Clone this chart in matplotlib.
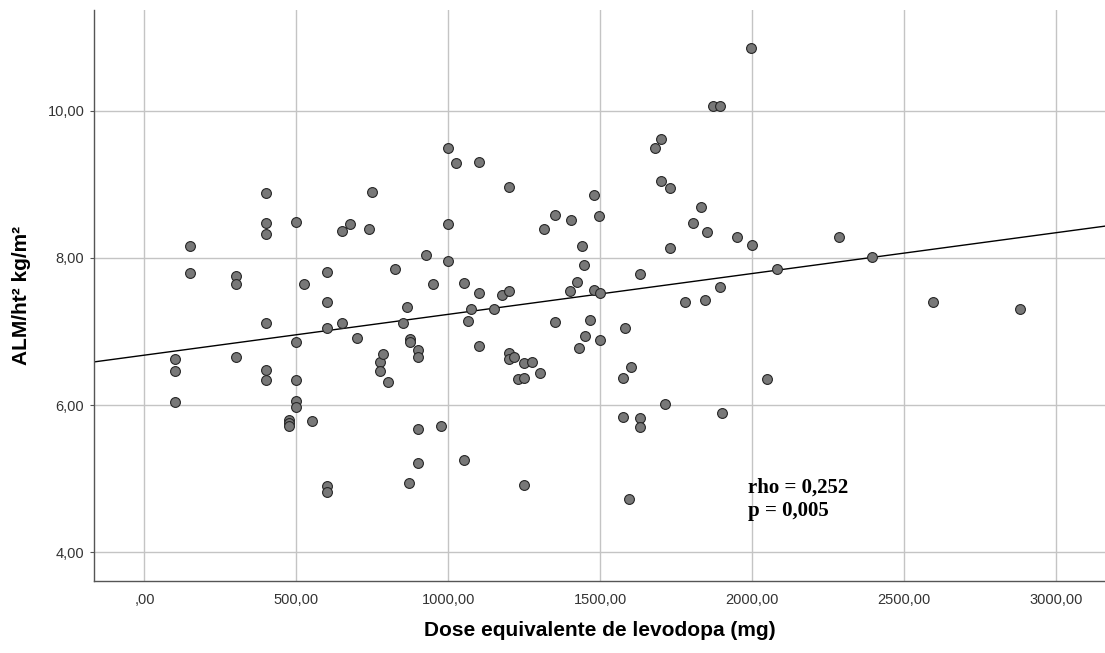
import numpy as np
import matplotlib
matplotlib.use('Agg')
import matplotlib.pyplot as plt

# --- data: levodopa equivalent dose (mg) vs appendicular lean mass index ---
dose_mg = [
    100, 100, 100, 150, 150, 300, 300, 300, 400, 400,
    400, 400, 400, 400, 475, 475, 475, 500, 500, 500,
    500, 500, 525, 550, 600, 600, 600, 600, 600, 650,
    650, 675, 700, 740, 750, 775, 775, 785, 800, 825,
    850, 865, 870, 875, 875, 900, 900, 900, 900, 925,
    950, 975, 1000, 1000, 1000, 1025, 1050, 1050, 1065, 1075,
    1100, 1100, 1100, 1150, 1175, 1200, 1200, 1200, 1200, 1215,
    1230, 1250, 1250, 1250, 1275, 1300, 1315, 1350, 1350, 1400,
    1405, 1425, 1430, 1440, 1445, 1450, 1465, 1480, 1480, 1495,
    1500, 1500, 1575, 1575, 1580, 1595, 1600, 1630, 1630, 1630,
    1680, 1700, 1700, 1712, 1730, 1730, 1780, 1805, 1830, 1845,
    1850, 1870, 1895, 1895, 1900, 1950, 1995, 2000, 2050, 2080,
    2285, 2395, 2595, 2880,
]
alm_ht2 = [
    6.63, 6.46, 6.04, 8.16, 7.80, 7.75, 7.65, 6.66, 8.88, 8.47,
    8.32, 7.11, 6.48, 6.34, 5.80, 5.76, 5.71, 8.49, 6.86, 6.34,
    6.05, 5.97, 7.65, 5.78, 7.81, 7.40, 7.05, 4.90, 4.82, 8.37,
    7.12, 8.46, 6.91, 8.39, 8.89, 6.58, 6.47, 6.70, 6.31, 7.85,
    7.11, 7.34, 4.94, 6.90, 6.86, 6.75, 6.66, 5.68, 5.22, 8.04,
    7.65, 5.72, 9.50, 8.46, 7.96, 9.29, 7.66, 5.26, 7.14, 7.30,
    9.30, 7.52, 6.80, 7.30, 7.49, 8.96, 7.55, 6.71, 6.62, 6.65,
    6.35, 6.57, 6.37, 4.92, 6.59, 6.44, 8.39, 8.58, 7.13, 7.55,
    8.52, 7.68, 6.77, 8.16, 7.90, 6.94, 7.15, 8.86, 7.56, 8.57,
    7.52, 6.89, 6.37, 5.84, 7.05, 4.72, 6.52, 7.78, 5.82, 5.70,
    9.50, 9.61, 9.05, 6.01, 8.95, 8.14, 7.40, 8.48, 8.69, 7.43,
    8.35, 10.07, 10.07, 7.61, 5.89, 8.29, 10.85, 8.18, 6.36, 7.85,
    8.28, 8.01, 7.40, 7.31,
]
x_ticks = [0, 500, 1000, 1500, 2000, 2500, 3000]
x_ticklabels = [',00', '500,00', '1000,00', '1500,00', '2000,00', '2500,00', '3000,00']
y_ticks = [4, 6, 8, 10]
y_ticklabels = ['4,00', '6,00', '8,00', '10,00']
stats_text = 'rho = 0,252\np = 0,005'

plt.rcParams['font.family'] = ['Liberation Sans', 'DejaVu Sans']

fig = plt.figure(figsize=(11.05, 6.53), dpi=100)
ax = fig.add_axes([0.0851, 0.1103, 0.9149, 0.8744])

x = np.array(dose_mg, dtype=float)
y = np.array(alm_ht2, dtype=float)

# gridlines behind everything
ax.set_axisbelow(True)
ax.grid(True, color='#c4c4c4', linewidth=1.0)

# linear fit line across the full x range
slope, intercept = np.polyfit(x, y, 1)
xlim = (-166, 3161)
xs = np.array(xlim)
ax.plot(xs, intercept + slope * xs, color='black', linewidth=1.0, zorder=2)

ax.scatter(x, y, s=50, facecolor='#787878', edgecolor='#262626',
           linewidth=0.8, zorder=3)

ax.set_xlim(*xlim)
ax.set_ylim(3.61, 11.37)
ax.set_xticks(x_ticks)
ax.set_xticklabels(x_ticklabels)
ax.set_yticks(y_ticks)
ax.set_yticklabels(y_ticklabels)
ax.tick_params(axis='x', length=0, pad=9, labelsize=10.5, labelcolor='#333333')
ax.tick_params(axis='y', length=3, width=0.8, color='#555555', pad=4,
               labelsize=10.5, labelcolor='#333333')

for side in ('top', 'right'):
    ax.spines[side].set_visible(False)
for side in ('left', 'bottom'):
    ax.spines[side].set_color('#555555')
    ax.spines[side].set_linewidth(1.0)

ax.set_xlabel('Dose equivalente de levodopa (mg)', fontsize=15, fontweight='bold')
ax.set_ylabel('ALM/ht² kg/m²', fontsize=15, fontweight='bold')
ax.xaxis.set_label_coords(0.5, -0.07)
ax.yaxis.set_label_coords(-0.062, 0.5)

ax.text(1985, 5.01, stats_text, fontsize=15, fontweight='bold',
        family=['Liberation Serif', 'DejaVu Serif'], va='top', ha='left',
        linespacing=1.2, zorder=4)

fig.savefig('out.png', dpi=100)
